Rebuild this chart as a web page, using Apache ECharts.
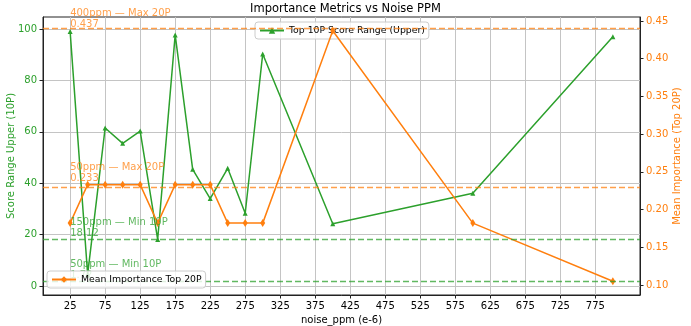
<!DOCTYPE html>
<html><head><meta charset="utf-8">
<script src="https://cdn.jsdelivr.net/npm/echarts@6/dist/echarts.min.js"></script>
<style>html,body{margin:0;padding:0;background:#fff}#c{width:691px;height:326px}</style>
</head><body><div id="c"></div>
<script>
const ppm = [25, 50, 75, 100, 125, 150, 175, 200, 225, 250, 275, 300, 400, 600, 800];
const scoreUpper10P = [99.0, 4.5, 61.5, 55.5, 60.3, 18.1, 97.7, 45.4, 34.0, 45.8, 28.3, 90.3, 24.2, 36.1, 97.0];
const meanImp20P = [0.182, 0.233, 0.233, 0.233, 0.233, 0.182, 0.233, 0.233, 0.233, 0.182, 0.182, 0.182, 0.437, 0.182, 0.105];
const xTicks = [25, 75, 125, 175, 225, 275, 325, 375, 425, 475, 525, 575, 625, 675, 725, 775];
const leftTicks = [0, 20, 40, 60, 80, 100];
const rightTicks = [0.10, 0.15, 0.20, 0.25, 0.30, 0.35, 0.40, 0.45];
const maxRefNames = ['400ppm — Max 20P', '50ppm — Max 20P'];
const maxRefValues = [0.437, 0.233];
const minRefNames = ['150ppm — Min 10P', '50ppm — Min 10P'];
const minRefValues = [18.12, 1.72];

const GREEN = '#2ca02c', ORANGE = '#ff7f0e';
const FONT = 'DejaVu Sans';
const chart = echarts.init(document.getElementById('c'));

function refLines(vals, color) {
  return {
    silent: true, symbol: 'none',
    lineStyle: { color: color, type: [6, 3], width: 1.3, opacity: 0.75 },
    label: { show: false },
    data: vals.map(v => ({ yAxis: v }))
  };
}
function refLabels(names, vals, color) {
  return {
    silent: true, symbolSize: 0,
    label: {
      show: true, position: [0, 0], align: 'left', verticalAlign: 'bottom', offset: [0, -1],
      color: color, opacity: 0.75, fontFamily: FONT, fontSize: 10, lineHeight: 11,
      formatter: p => p.data.txt
    },
    data: names.map((n, i) => ({ coord: [ppm[0], vals[i]], txt: n + '\n' + vals[i] }))
  };
}

chart.setOption({
  animation: false,
  backgroundColor: '#fff',
  textStyle: { fontFamily: FONT },
  title: {
    text: 'Importance Metrics vs Noise PPM', left: 'center', top: -2,
    textStyle: { fontFamily: FONT, fontSize: 11.5, fontWeight: 'normal', color: '#000' }
  },
  grid: { left: 43, right: 51, top: 17, bottom: 31, outerBoundsMode: 'none', containLabel: false,
    show: true, borderColor: '#222', borderWidth: 1, backgroundColor: 'transparent' },
  legend: [
    {
      data: ['Top 10P Score Range (Upper)'], left: 255, top: 22, z: 1,
      itemWidth: 24, itemHeight: 8, itemGap: 4, padding: [4, 4, 4, 4],
      backgroundColor: 'rgba(255,255,255,0.8)', borderColor: '#ccc', borderWidth: 1, borderRadius: 3,
      textStyle: { fontFamily: FONT, fontSize: 9.3, color: '#000' }
    },
    {
      data: ['Mean Importance Top 20P'], left: 47, top: 271, z: 10,
      itemWidth: 24, itemHeight: 8, padding: [4, 4, 4, 4],
      backgroundColor: 'rgba(255,255,255,0.8)', borderColor: '#ccc', borderWidth: 1, borderRadius: 3,
      textStyle: { fontFamily: FONT, fontSize: 9.3, color: '#000' }
    }
  ],
  xAxis: {
    type: 'value', min: -13.75, max: 838.75,
    name: 'noise_ppm (e-6)', nameLocation: 'middle', nameGap: 18,
    nameTextStyle: { fontFamily: FONT, fontSize: 10, color: '#000' },
    axisLine: { show: true, onZero: false, lineStyle: { color: '#222' } },
    axisTick: { show: true, customValues: xTicks, length: 3.5, lineStyle: { color: '#222' } },
    axisLabel: { customValues: xTicks, fontFamily: FONT, fontSize: 10, color: '#000', margin: 6 },
    splitLine: { show: true, lineStyle: { color: '#c4c4c4', width: 1 } }
  },
  yAxis: [
    {
      type: 'value', min: -3.5, max: 104.67, position: 'left',
      name: 'Score Range Upper (10P)', nameLocation: 'middle', nameGap: 27, nameMoveOverlap: false,
      nameTextStyle: { fontFamily: FONT, fontSize: 10, color: GREEN },
      axisLine: { show: true, onZero: false, lineStyle: { color: '#222' } },
      axisTick: { show: true, customValues: leftTicks, length: 3.5, lineStyle: { color: '#222' } },
      axisLabel: { customValues: leftTicks, fontFamily: FONT, fontSize: 10, color: GREEN, margin: 6 },
      splitLine: { show: true, lineStyle: { color: '#c4c4c4', width: 1 } }
    },
    {
      type: 'value', min: 0.0867, max: 0.4553, position: 'right',
      name: 'Mean Importance (Top 20P)', nameLocation: 'middle', nameGap: 32, nameRotate: 90, nameMoveOverlap: false,
      nameTextStyle: { fontFamily: FONT, fontSize: 10, color: ORANGE },
      axisLine: { show: true, onZero: false, lineStyle: { color: '#222' } },
      axisTick: { show: true, customValues: rightTicks, length: 3.5, lineStyle: { color: '#222' } },
      axisLabel: { customValues: rightTicks, fontFamily: FONT, fontSize: 10, color: ORANGE, margin: 6,
        formatter: v => v.toFixed(2) },
      splitLine: { show: false }
    }
  ],
  series: [
    {
      name: 'Top 10P Score Range (Upper)', type: 'line', yAxisIndex: 0, z: 3,
      data: ppm.map((x, i) => [x, scoreUpper10P[i]]),
      color: GREEN, lineStyle: { width: 1.5, color: GREEN },
      symbol: 'triangle', symbolSize: 5, itemStyle: { color: GREEN },
      markLine: refLines(minRefValues, GREEN),
      markPoint: refLabels(minRefNames, minRefValues, GREEN)
    },
    {
      name: 'Mean Importance Top 20P', type: 'line', yAxisIndex: 1, z: 4,
      data: ppm.map((x, i) => [x, meanImp20P[i]]),
      color: ORANGE, lineStyle: { width: 1.5, color: ORANGE },
      symbol: 'diamond', symbolSize: [5, 8], itemStyle: { color: ORANGE },
      markLine: refLines(maxRefValues, ORANGE),
      markPoint: refLabels(maxRefNames, maxRefValues, ORANGE)
    }
  ]
});
</script></body></html>
